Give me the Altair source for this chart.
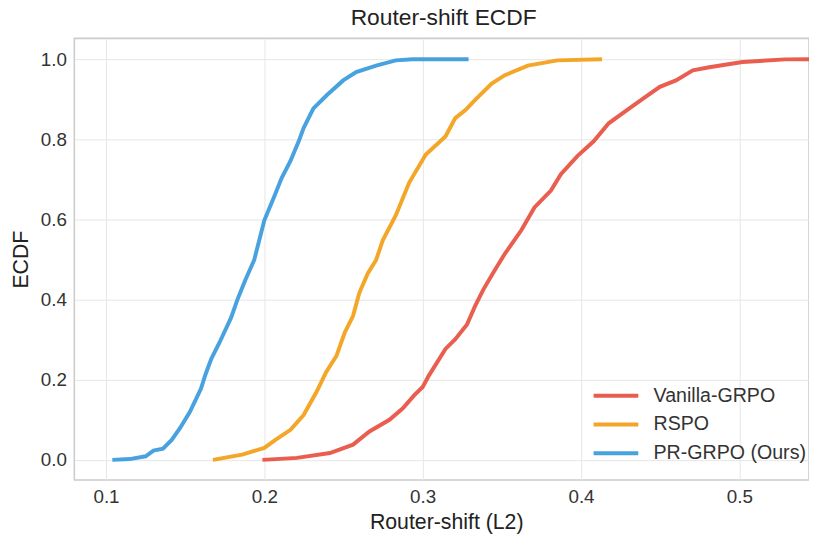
import altair as alt
import pandas as pd

series_names = ["Vanilla-GRPO", "RSPO", "PR-GRPO (Ours)"]
series_colors = ["#e74c3c", "#f39c12", "#3498db"]

vanilla_x = [0.1988, 0.2206, 0.2414, 0.256, 0.2664, 0.279, 0.2873, 0.2946, 0.300, 0.304,
             0.3144, 0.3206, 0.328, 0.333, 0.3383, 0.3456, 0.352, 0.3623, 0.3706, 0.381,
             0.3873, 0.3977, 0.408, 0.4175, 0.429, 0.4394, 0.4498, 0.460, 0.4706, 0.481,
             0.502, 0.529, 0.545, 0.56]
vanilla_y = [0.0, 0.005, 0.017, 0.038, 0.071, 0.1, 0.128, 0.161, 0.182, 0.211,
             0.277, 0.301, 0.338, 0.383, 0.425, 0.474, 0.515, 0.573, 0.630, 0.672,
             0.713, 0.758, 0.795, 0.840, 0.873, 0.902, 0.931, 0.947, 0.972, 0.980,
             0.993, 0.9995, 1.0, 1.0]

rspo_x = [0.1675, 0.186, 0.200, 0.207, 0.2165, 0.2248, 0.233, 0.239, 0.2456, 0.2508,
          0.256, 0.260, 0.2654, 0.2706, 0.2748, 0.283, 0.2915, 0.302, 0.3144, 0.3206,
          0.327, 0.333, 0.3436, 0.3519, 0.3664, 0.385, 0.4133]
rspo_y = [0.0, 0.013, 0.030, 0.05, 0.075, 0.112, 0.17, 0.219, 0.26, 0.318,
          0.359, 0.417, 0.466, 0.499, 0.548, 0.61, 0.692, 0.762, 0.807, 0.853,
          0.873, 0.898, 0.939, 0.960, 0.984, 0.997, 1.0]

prgrpo_x = [0.104, 0.115, 0.125, 0.130, 0.136, 0.1415, 0.1467, 0.153, 0.160, 0.163,
            0.1665, 0.1717, 0.179, 0.183, 0.188, 0.1936, 0.200, 0.206, 0.211, 0.2165,
            0.2217, 0.2248, 0.231, 0.2394, 0.2498, 0.258, 0.2706, 0.283, 0.2936, 0.329]
prgrpo_y = [0.0, 0.002, 0.009, 0.023, 0.028, 0.05, 0.079, 0.12, 0.178, 0.215,
            0.252, 0.293, 0.355, 0.40, 0.449, 0.499, 0.598, 0.655, 0.704, 0.746,
            0.795, 0.828, 0.877, 0.910, 0.947, 0.968, 0.984, 0.997, 1.0, 1.0]

x_ticks = [0.1, 0.2, 0.3, 0.4, 0.5]
y_ticks = [0.0, 0.2, 0.4, 0.6, 0.8, 1.0]

rows = []
for name, xs, ys in zip(series_names,
                        [vanilla_x, rspo_x, prgrpo_x],
                        [vanilla_y, rspo_y, prgrpo_y]):
    for i, (xv, yv) in enumerate(zip(xs, ys)):
        rows.append({"series": name, "x": xv, "y": yv, "i": i})
df = pd.DataFrame(rows)

FONT = "Liberation Sans"

chart = alt.Chart(df).mark_line(strokeWidth=4, opacity=0.9, clip=True).encode(
    x=alt.X("x:Q", title="Router-shift (L2)",
            scale=alt.Scale(domain=[0.08, 0.544], nice=False, zero=False),
            axis=alt.Axis(values=x_ticks, format=".1f", titleAnchor="start",
                          titleAlign="left", titleX=298)),
    y=alt.Y("y:Q", title="ECDF",
            scale=alt.Scale(domain=[-0.05, 1.052], nice=False, zero=False),
            axis=alt.Axis(values=y_ticks, format=".1f")),
    color=alt.Color("series:N", title=None,
                    scale=alt.Scale(domain=series_names, range=series_colors),
                    legend=alt.Legend(orient="none", legendX=534, legendY=348)),
    order="i:Q",
).properties(
    width=742, height=446,
    title=alt.TitleParams("Router-shift ECDF", fontSize=23, font=FONT,
                          color="#222222", fontWeight="normal", offset=8, dx=2),
    autosize=alt.AutoSizeParams(type="none"),
    padding={"left": 67, "top": 28, "right": 0, "bottom": 55},
).configure_view(
    stroke="#cccccc", strokeWidth=1.6
).configure_axis(
    domain=False, ticks=False, grid=True, gridColor="#e6e6e6", gridWidth=1,
    labelFont=FONT, labelFontSize=19, labelColor="#333333",
    titleFont=FONT, titleFontSize=21.5, titleColor="#222222", titleFontWeight="normal",
    labelPadding=8
).configure_axisY(
    titlePadding=8
).configure_axisX(
    titlePadding=5
).configure_legend(
    symbolType="M-2.1,0L2.1,0", symbolStrokeWidth=4, symbolSize=462,
    labelFont=FONT, labelFontSize=19.8, labelColor="#333333",
    labelOffset=25, rowPadding=6, padding=0, symbolOpacity=0.9
)

chart.save("out.html", embed_options={"renderer": "svg", "actions": False})
